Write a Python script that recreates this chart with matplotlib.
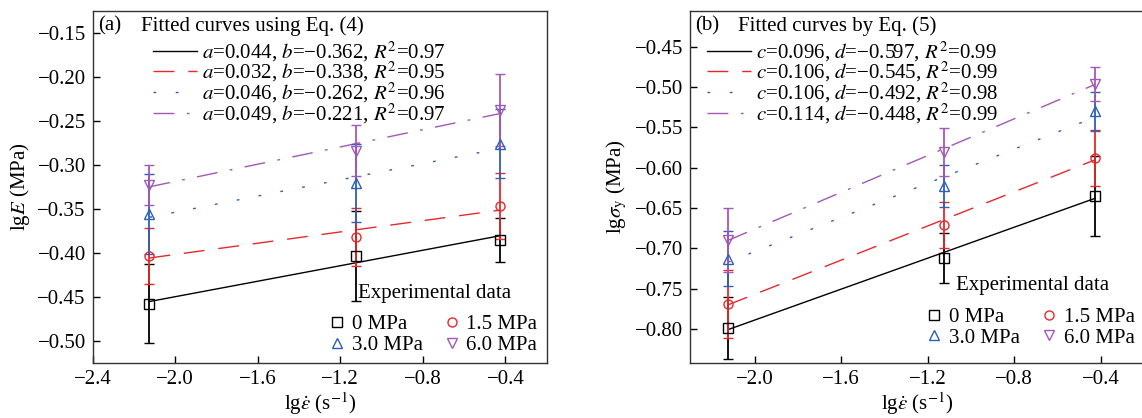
import matplotlib
matplotlib.use("Agg")
import matplotlib.pyplot as plt
from matplotlib.lines import Line2D
import numpy as np

plt.rcParams['font.family'] = ['Liberation Serif', 'DejaVu Serif']
plt.rcParams['mathtext.fontset'] = 'stix'
plt.rcParams['axes.unicode_minus'] = True

# strain rate (lg, s^-1)
x_rate = [-2.125, -1.125, -0.426]
pressures = ['0 MPa', '1.5 MPa', '3.0 MPa', '6.0 MPa']

# (a) lgE and error bars
lgE_0 = [-0.458, -0.404, -0.386]
lgE_15 = [-0.404, -0.382, -0.347]
lgE_30 = [-0.356, -0.321, -0.276]
lgE_60 = [-0.323, -0.284, -0.238]
errE_0 = [0.045, 0.051, 0.025]
errE_15 = [0.032, 0.033, 0.038]
errE_30 = [0.045, 0.044, 0.039]
errE_60 = [0.023, 0.029, 0.041]
fit_a = [0.044, 0.032, 0.046, 0.049]
fit_b = [-0.362, -0.338, -0.262, -0.221]
r2_a = [0.97, 0.95, 0.96, 0.97]

# (b) lg sigma_y and error bars
lgS_0 = [-0.799, -0.712, -0.635]
lgS_15 = [-0.769, -0.671, -0.5875]
lgS_30 = [-0.713, -0.623, -0.530]
lgS_60 = [-0.690, -0.5805, -0.4964]
errS_0 = [0.038, 0.031, 0.050]
errS_15 = [0.042, 0.028, 0.035]
errS_30 = [0.034, 0.026, 0.024]
errS_60 = [0.040, 0.030, 0.021]
fit_c = [0.096, 0.106, 0.106, 0.114]
fit_d = [-0.597, -0.545, -0.492, -0.448]
r2_b = [0.99, 0.99, 0.98, 0.99]

colors = ['black', '#e8282c', '#2d5fb4', '#a258b6']
markers = ['s', 'o', '^', 'v']
dash_styles = ['-', (0, (15, 10)), (0, (2, 14)), (0, (15, 9, 2, 9))]
FS = 15

fig = plt.figure(figsize=(11.42, 4.18), dpi=100)
ax1 = fig.add_axes([0.0812, 0.1323, 0.3975, 0.8421])
ax2 = fig.add_axes([0.6042, 0.1323, 0.3975, 0.8421])

panels = [
    (ax1, [lgE_0, lgE_15, lgE_30, lgE_60], [errE_0, errE_15, errE_30, errE_60],
     fit_a, fit_b, r2_a, ('a', 'b'), '(a)', 'Fitted curves using Eq. (4)',
     'lg$E$ (MPa)', (-2.4, -0.2), (-0.525, -0.125),
     [-0.50, -0.45, -0.40, -0.35, -0.30, -0.25, -0.20, -0.15], [-2.4, -2.0, -1.6, -1.2, -0.8, -0.4]),
    (ax2, [lgS_0, lgS_15, lgS_30, lgS_60], [errS_0, errS_15, errS_30, errS_60],
     fit_c, fit_d, r2_b, ('c', 'd'), '(b)', 'Fitted curves by Eq. (5)',
     r'lg$\sigma_{\mathrm{y}}$ (MPa)', (-2.3, -0.2), (-0.842, -0.405),
     [-0.80, -0.75, -0.70, -0.65, -0.60, -0.55, -0.50, -0.45], [-2.0, -1.6, -1.2, -0.8, -0.4]),
]

for (ax, ys, errs, p1, p2, r2, pname, tag, title, ylabel, xlim, ylim, yt, xt) in panels:
    xs = np.array(x_rate)
    xe = np.array([x_rate[0], x_rate[-1]])
    fit_handles = []
    for i in range(4):
        ln, = ax.plot(xe, p1[i] * xe + p2[i], color=colors[i], lw=1.0,
                      linestyle=dash_styles[i])
        fit_handles.append(ln)
    for i in range(4):
        ax.errorbar(xs, ys[i], yerr=errs[i], fmt=markers[i], mfc='none',
                    mec=colors[i], ecolor=colors[i], ms=6.5, mew=1.0,
                    elinewidth=1.3, capsize=3.5, capthick=1.3, zorder=3)
    fit_labels = [f'${pname[0]}$={p1[i]:.3f}, ${pname[1]}$=\u2212{abs(p2[i]):.3f}, $R^2$={r2[i]:.2f}'
                  for i in range(4)]

    ax.set_xlim(*xlim)
    ax.set_ylim(*ylim)
    ax.set_xticks(xt)
    ax.set_yticks(yt)
    ax.set_xticklabels([f'{v:.1f}'.replace('-', '\u2212') for v in xt])
    ax.set_yticklabels([f'{v:.2f}'.replace('-', '\u2212') for v in yt])
    ax.tick_params(direction='in', length=5, width=1, labelsize=FS, pad=5,
                   top=False, right=False)
    for sp in ax.spines.values():
        sp.set_linewidth(1.0)
        sp.set_color('#333333')
    ax.set_xlabel(r'lg$\dot{\varepsilon}$ (s$^{-1}$)', fontsize=FS, labelpad=1)
    ax.set_ylabel(ylabel, fontsize=FS, labelpad=4)

    ax.text(0.012, 0.957, tag, transform=ax.transAxes, fontsize=FS, va='center', ha='left')
    ax.text(0.106, 0.957, title, transform=ax.transAxes, fontsize=FS, va='center', ha='left')

    hx = 0.133 if tag == '(a)' else 0.037
    leg1 = ax.legend(fit_handles, fit_labels, loc='upper left', bbox_to_anchor=(hx, 0.918),
                     frameon=False, fontsize=FS, borderpad=0, borderaxespad=0,
                     handlelength=2.1, handletextpad=0.25, labelspacing=-0.18)
    ax.add_artist(leg1)

    ax.text(0.585, 0.197 if tag == '(a)' else 0.218, 'Experimental data',
            transform=ax.transAxes, fontsize=FS, va='center', ha='left')
    mk = [Line2D([], [], ls='none', marker=markers[i], mfc='none', mec=colors[i],
                 ms=6.5, mew=1.0) for i in range(4)]
    order = [0, 2, 1, 3]
    ax.legend([mk[i] for i in order], [pressures[i] for i in order], ncol=2,
              loc='lower left', bbox_to_anchor=(0.52, 0.022 if tag == '(a)' else 0.043),
              frameon=False, fontsize=FS, borderpad=0, borderaxespad=0,
              handlelength=0.8, handletextpad=0.3, labelspacing=0.05,
              columnspacing=1.0)

fig.savefig('out.png', dpi=100)
